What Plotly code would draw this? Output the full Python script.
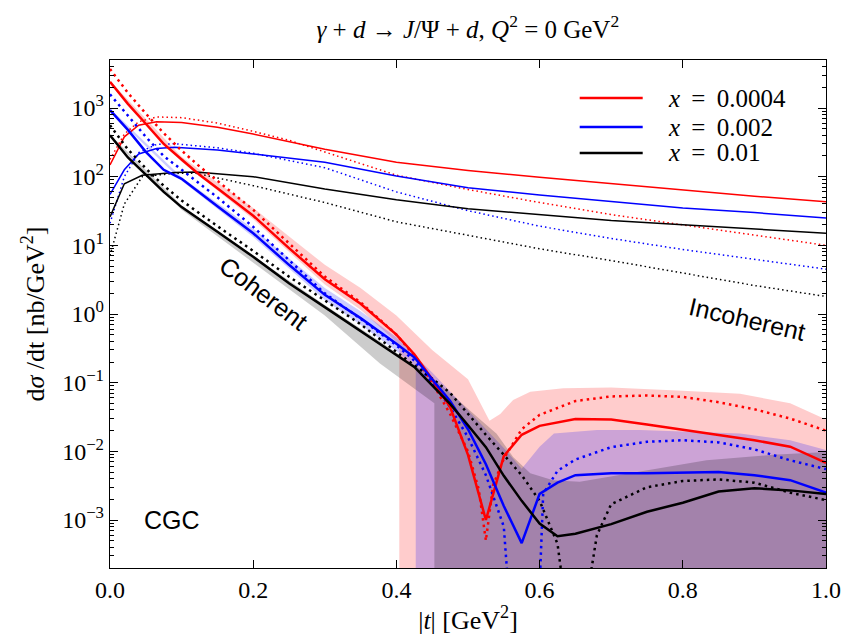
import plotly.graph_objects as go

# ---------------- data ----------------
# Coherent, solid (thick)
coh_t = [0, 0.025, 0.05, 0.075, 0.1, 0.125, 0.15, 0.2, 0.25, 0.3, 0.35, 0.4, 0.425, 0.45,
         0.475, 0.5, 0.525, 0.55, 0.575, 0.6, 0.65, 0.7, 0.75, 0.8, 0.85, 0.9, 0.95, 1.0]
coh_red_solid = [2.4e3, 1.15e3, 5.9e2, 3.0e2, 1.78e2, 1.07e2, 68, 27, 9.1, 3.2, 1.41, 0.50, 0.26, 0.112,
                 0.044, 8.9e-3, 1.0e-3, 8.5e-3, 1.74e-2, 2.35e-2, 2.95e-2, 2.9e-2, 2.45e-2, 2.05e-2,
                 1.74e-2, 1.45e-2, 1.17e-2, 6.8e-3]

blue_t = [0, 0.025, 0.05, 0.075, 0.1, 0.125, 0.15, 0.2, 0.25, 0.3, 0.35, 0.4, 0.425, 0.45,
          0.475, 0.5, 0.525, 0.55, 0.575, 0.6, 0.625, 0.65, 0.7, 0.75, 0.8, 0.85, 0.9, 0.95, 1.0]
coh_blue_solid = [9.3e2, 4.8e2, 2.3e2, 1.26e2, 93, 58, 37, 15, 5.2, 1.9, 0.87, 0.37, 0.234, 0.112,
                  0.054, 0.021, 6.5e-3, 1.6e-3, 4.6e-4, 2.4e-3, 3.5e-3, 4.5e-3, 4.8e-3, 4.8e-3,
                  4.9e-3, 5.0e-3, 4.5e-3, 3.8e-3, 2.5e-3]

black_t = [0, 0.025, 0.05, 0.075, 0.1, 0.125, 0.15, 0.2, 0.25, 0.3, 0.35, 0.4, 0.425, 0.45,
           0.475, 0.5, 0.525, 0.55, 0.575, 0.6, 0.625, 0.65, 0.7, 0.75, 0.8, 0.85, 0.9, 0.95, 1.0]
coh_black_solid = [4.0e2, 1.9e2, 1.07e2, 60, 36, 24, 15.8, 6.8, 2.8, 1.26, 0.56, 0.25, 0.17, 0.091,
                   0.049, 0.024, 0.0115, 4.4e-3, 1.9e-3, 8.9e-4, 5.8e-4, 6.3e-4, 8.7e-4, 1.32e-3,
                   1.78e-3, 2.6e-3, 2.9e-3, 2.7e-3, 2.4e-3]

# Coherent, dotted (thick)
red_dot_t = [0, 0.025, 0.05, 0.075, 0.1, 0.125, 0.15, 0.2, 0.25, 0.3, 0.35, 0.4, 0.425, 0.45,
             0.475, 0.5, 0.515, 0.525, 0.535, 0.55, 0.575, 0.6, 0.65, 0.7, 0.75, 0.8, 0.85,
             0.9, 0.95, 1.0]
coh_red_dot = [3.7e3, 1.66e3, 8.3e2, 4.3e2, 2.4e2, 1.41e2, 87, 33, 10.7, 3.5, 1.48, 0.50, 0.25, 0.10,
               0.035, 0.010, 2.8e-3, 5.0e-4, 3.2e-3, 7.8e-3, 2.1e-2, 3.4e-2, 5.4e-2, 6.3e-2,
               6.5e-2, 6.2e-2, 5.2e-2, 4.1e-2, 3.0e-2, 2.0e-2]

blue_dot_t = [0, 0.025, 0.05, 0.075, 0.1, 0.125, 0.15, 0.2, 0.25, 0.3, 0.35, 0.4, 0.425, 0.45,
              0.475, 0.5, 0.525, 0.55, 0.56, 0.58, 0.598, 0.605, 0.625, 0.65, 0.7, 0.75, 0.8,
              0.85, 0.9, 0.95, 1.0]
coh_blue_dot = [1.58e3, 7.6e2, 3.8e2, 2.0e2, 1.26e2, 79, 50, 18.6, 6.0, 2.0, 0.85, 0.35, 0.21, 0.10,
                0.044, 0.016, 4.5e-3, 8e-4, 3e-5, 1e-6, 3e-5, 2.4e-3, 5.2e-3, 7.6e-3, 1.15e-2,
                1.38e-2, 1.45e-2, 1.35e-2, 1.07e-2, 7.4e-3, 5.5e-3]

black_dot_t = [0, 0.025, 0.05, 0.075, 0.1, 0.125, 0.15, 0.2, 0.25, 0.3, 0.35, 0.4, 0.425, 0.45,
               0.475, 0.5, 0.525, 0.55, 0.575, 0.6, 0.625, 0.64, 0.655, 0.668, 0.68, 0.7, 0.75,
               0.8, 0.85, 0.9, 0.95, 1.0]
coh_black_dot = [5.6e2, 2.5e2, 1.32e2, 74, 45, 29, 19, 8.3, 3.5, 1.58, 0.71, 0.28, 0.18, 0.115,
                 0.071, 0.035, 0.0174, 8.9e-3, 4.5e-3, 1.9e-3, 4.5e-4, 3e-5, 1e-6, 1e-4, 6e-4,
                 1.7e-3, 3.0e-3, 3.7e-3, 3.9e-3, 3.5e-3, 2.5e-3, 1.95e-3]

# Incoherent (thin)
inc_red_t = [0, 0.02, 0.04, 0.065, 0.1, 0.15, 0.2, 0.25, 0.3, 0.4, 0.5, 0.6, 0.7, 0.8, 0.9, 1.0]
inc_red_solid = [148, 380, 560, 630, 617, 525, 417, 324, 251, 162, 123, 98, 79, 65, 52, 43]
inc_red_dot = [178, 417, 630, 740, 724, 603, 457, 339, 229, 105, 65, 42, 28, 20, 14, 10]

inc_blue_t = [0, 0.02, 0.04, 0.065, 0.09, 0.15, 0.2, 0.25, 0.3, 0.4, 0.5, 0.6, 0.7, 0.8, 0.9, 1.0]
inc_blue_solid = [55, 126, 214, 257, 269, 245, 214, 186, 162, 102, 69, 54, 43, 35, 30, 25]
inc_blue_dot = [21, 100, 224, 295, 302, 263, 219, 174, 135, 60, 32, 19, 12.6, 8.7, 6.2, 4.5]

inc_black_t = [0, 0.02, 0.045, 0.09, 0.12, 0.2, 0.3, 0.4, 0.5, 0.6, 0.7, 0.8, 0.9, 1.0]
inc_black_solid = [26, 79, 105, 115, 117, 100, 66, 46, 34, 28, 23, 20, 17.4, 15]
inc_black_dot = [7.1, 40, 100, 112, 112, 74, 42, 22, 14, 8.9, 6.0, 4.0, 2.6, 1.8]

# Uncertainty bands (upper edge, lower edge)
band_red_up_t = [0, 0.1, 0.2, 0.25, 0.3, 0.35, 0.4, 0.45, 0.5, 0.53, 0.545, 0.563, 0.587,
                 0.633, 0.7, 0.8, 0.88, 0.95, 1.0]
band_red_up = [2.5e3, 1.95e2, 35, 13.5, 5.2, 2.4, 0.95, 0.30, 0.112, 0.028, 0.035, 0.056, 0.074,
               0.083, 0.085, 0.076, 0.069, 0.050, 0.029]
band_red_lo_t = [0, 0.1, 0.2, 0.25, 0.3, 0.35, 0.404, 0.4041, 1.0]
band_red_lo = [2.3e3, 1.65e2, 24, 8.0, 2.7, 1.15, 0.36, 1e-8, 1e-8]

band_blue_up_t = [0, 0.1, 0.2, 0.3, 0.35, 0.4, 0.45, 0.5, 0.55, 0.575, 0.59, 0.6, 0.62, 0.68,
                  0.74, 0.88, 0.95, 1.0]
band_blue_up = [9.8e2, 98, 17.5, 2.4, 1.1, 0.46, 0.141, 0.040, 0.0112, 5.6e-3, 8.9e-3, 0.0117,
                0.0182, 0.0204, 0.0204, 0.0182, 0.0145, 0.0105]
band_blue_lo_t = [0, 0.1, 0.2, 0.3, 0.35, 0.4, 0.427, 0.4271, 1.0]
band_blue_lo = [8.9e2, 87, 13.2, 1.6, 0.70, 0.29, 0.17, 1e-8, 1e-8]

band_black_up_t = [0, 0.1, 0.2, 0.3, 0.377, 0.45, 0.517, 0.54, 0.563, 0.587, 0.619, 0.656,
                   0.726, 0.796, 0.833, 0.926, 1.0]
band_black_up = [4.1e2, 38, 7.0, 1.35, 0.40, 0.12, 0.029, 0.018, 8.3e-3, 4.8e-3, 3.8e-3,
                 3.6e-3, 4.8e-3, 6.3e-3, 7.4e-3, 8.9e-3, 9.8e-3]
band_black_lo_t = [0, 0.1, 0.2, 0.3, 0.377, 0.453, 0.4531, 1.0]
band_black_lo = [3.8e2, 33, 5.6, 0.95, 0.19, 0.05, 1e-8, 1e-8]

legend_names = ["<i>x</i> = 0.0004", "<i>x</i> = 0.002", "<i>x</i> = 0.01"]
legend_colors = ["#ff0000", "#0000ff", "#000000"]
x_ticks = [0.0, 0.2, 0.4, 0.6, 0.8, 1.0]
x_ticktext = ["0.0", "0.2", "0.4", "0.6", "0.8", "1.0"]
y_ticks = [1e-3, 1e-2, 1e-1, 1e0, 1e1, 1e2, 1e3]
y_ticktext = ["10<sup>\u22123</sup>", "10<sup>\u22122</sup>", "10<sup>\u22121</sup>",
              "10<sup>0</sup>", "10<sup>1</sup>", "10<sup>2</sup>", "10<sup>3</sup>"]
y_minor = [k * 10.0 ** e for e in range(-4, 4) for k in range(2, 10)]

RED, BLUE, BLACK = "#ff0000", "#0000ff", "#000000"
SERIF = "Liberation Serif"
SANS = "Liberation Sans"

fig = go.Figure()


def band(t_up, up, t_lo, lo, color):
    fig.add_trace(go.Scatter(x=list(t_up) + list(t_lo)[::-1], y=list(up) + list(lo)[::-1],
                             fill="toself", fillcolor=color, line=dict(width=0),
                             mode="lines", hoverinfo="skip", showlegend=False))


band(band_red_up_t, band_red_up, band_red_lo_t, band_red_lo, "rgba(255,0,0,0.2)")
band(band_blue_up_t, band_blue_up, band_blue_lo_t, band_blue_lo, "rgba(0,0,255,0.2)")
band(band_black_up_t, band_black_up, band_black_lo_t, band_black_lo, "rgba(0,0,0,0.2)")


def line(t, v, color, width, dash, name=None):
    fig.add_trace(go.Scatter(x=t, y=v, mode="lines",
                             line=dict(color=color, width=width, dash=dash),
                             name=name, showlegend=False))


THICK_DOT = "2.5px,4px"
THIN_DOT = "1.5px,3px"
# incoherent
line(inc_red_t, inc_red_dot, RED, 1.5, THIN_DOT)
line(inc_blue_t, inc_blue_dot, BLUE, 1.5, THIN_DOT)
line(inc_black_t, inc_black_dot, BLACK, 1.5, THIN_DOT)
line(inc_red_t, inc_red_solid, RED, 1.5, "solid")
line(inc_blue_t, inc_blue_solid, BLUE, 1.5, "solid")
line(inc_black_t, inc_black_solid, BLACK, 1.5, "solid")
# coherent
line(red_dot_t, coh_red_dot, RED, 2.5, THICK_DOT)
line(blue_dot_t, coh_blue_dot, BLUE, 2.5, THICK_DOT)
line(black_dot_t, coh_black_dot, BLACK, 2.5, THICK_DOT)
line(coh_t, coh_red_solid, RED, 2.5, "solid", legend_names[0])
line(blue_t, coh_blue_solid, BLUE, 2.5, "solid", legend_names[1])
line(black_t, coh_black_solid, BLACK, 2.5, "solid", legend_names[2])

axis_common = dict(showline=True, linecolor="black", linewidth=1.4, mirror="allticks",
                   ticks="inside", ticklen=8, tickwidth=1, tickcolor="black",
                   showgrid=False, zeroline=False, automargin=False,
                   tickfont=dict(family=SERIF, size=24, color="black"))

fig.update_layout(
    width=846, height=643,
    margin=dict(l=110, r=20, t=60, b=75),
    paper_bgcolor="white", plot_bgcolor="white",
    title=dict(text="<i>\u03b3</i> + <i>d</i> \u2192 <i>J</i>/\u03a8 + <i>d</i>, "
                    "<i>Q</i><sup>2</sup> = 0 GeV<sup>2</sup>",
               x=0.553, xanchor="center", y=0.955, yanchor="middle",
               font=dict(family=SERIF, size=25, color="black")),
    xaxis=dict(range=[0, 1], tickvals=x_ticks, ticktext=x_ticktext,
               title=dict(text="|<i>t</i>| [GeV<sup>2</sup>]", standoff=8,
                          font=dict(family=SERIF, size=26, color="black")),
               **axis_common),
    yaxis=dict(type="log", range=[-3.699, 3.699], tickvals=y_ticks, ticktext=y_ticktext,
               minor=dict(tickvals=y_minor, ticks="inside", ticklen=4, tickcolor="black",
                          showgrid=False),
               title=dict(text="d<i>\u03c3</i> /dt [nb/GeV<sup>2</sup>]", standoff=10,
                          font=dict(family=SERIF, size=26, color="black")),
               **axis_common),
    showlegend=False,
)

# legend (line samples + labels)
legend_rows = [0.925, 0.868, 0.817]
for name, col, yy in zip(legend_names, legend_colors, legend_rows):
    fig.add_shape(type="line", xref="paper", yref="paper", x0=0.656, x1=0.744, y0=yy, y1=yy,
                  line=dict(color=col, width=2.5))
    fig.add_annotation(xref="paper", yref="paper", x=0.776, y=yy, xanchor="left",
                       yanchor="middle", text=name.replace(" = ", " \u2009=\u2009 "),
                       showarrow=False, font=dict(family=SERIF, size=25, color="black"))

fig.add_annotation(x=0.214, y=0.30, xref="x", yref="y", text="Coherent", showarrow=False,
                   textangle=37, font=dict(family=SANS, size=25, color="black"))
fig.add_annotation(x=0.89, y=-0.08, xref="x", yref="y", text="Incoherent", showarrow=False,
                   textangle=13, font=dict(family=SANS, size=25, color="black"))
fig.add_annotation(x=0.086, y=-3.0, xref="x", yref="y", text="CGC", showarrow=False,
                   font=dict(family=SANS, size=25, color="black"))

fig.write_html("out.html")
